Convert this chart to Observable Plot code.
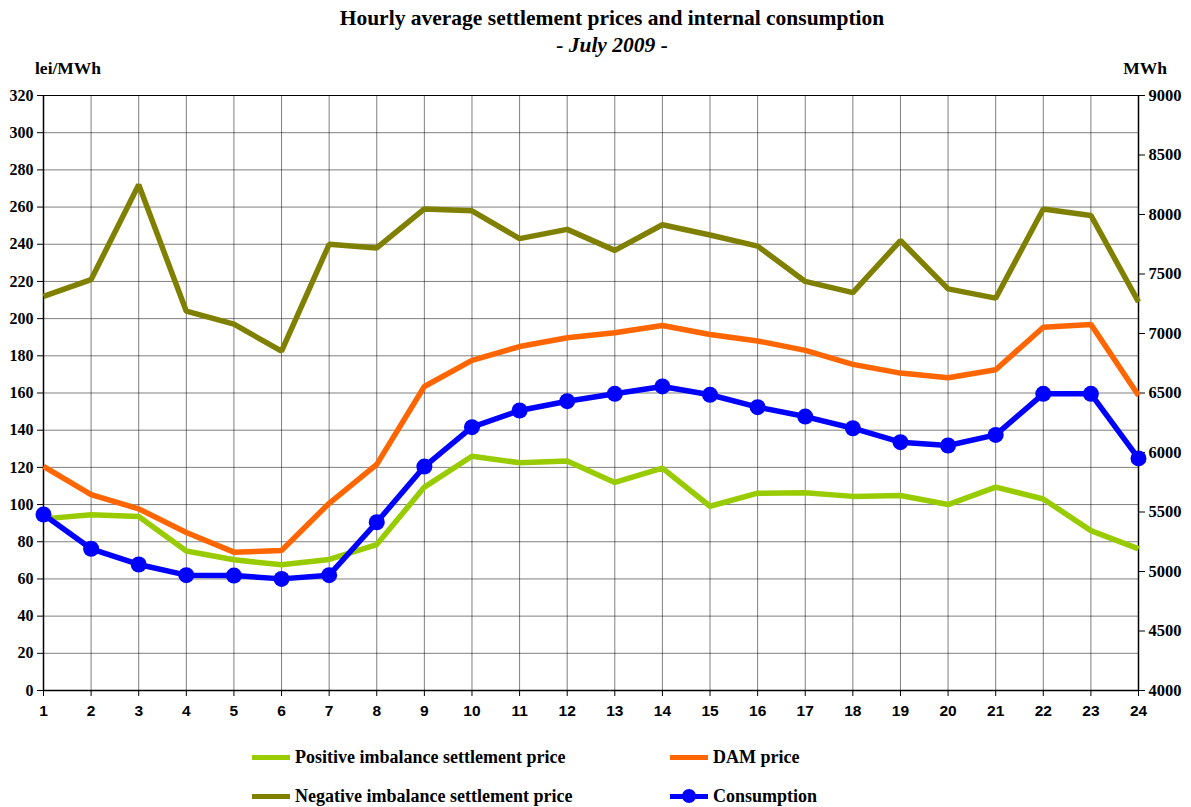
<!DOCTYPE html>
<html>
<head>
<meta charset="utf-8">
<script src="https://cdn.jsdelivr.net/npm/d3@7"></script>
<script src="https://cdn.jsdelivr.net/npm/@observablehq/plot@0.6"></script>
<style>
  html, body { margin: 0; padding: 0; background: #fff; }
  #wrap { position: relative; width: 1191px; height: 807px; font-family: "Liberation Serif", "Times New Roman", serif; font-weight: bold; color: #000; }
  #wrap svg { position: absolute; left: 0; top: 0; }
  .abs { position: absolute; white-space: nowrap; }
  #title { left: 0; width: 1224px; top: 5px; text-align: center; font-size: 21.5px; line-height: 26px; }
  #subtitle { left: 0; width: 1224px; top: 32px; text-align: center; font-size: 21.5px; line-height: 26px; font-style: italic; }
  #lunit { left: 35px; top: 57px; font-size: 17.5px; line-height: 22px; }
  #runit { right: 24px; top: 57px; font-size: 17.5px; line-height: 22px; }
  .leg { position: absolute; font-size: 18px; line-height: 22px; }
  .sw { position: absolute; height: 5px; width: 38px; }
</style>
</head>
<body>
<div id="wrap">
  <div id="chart"></div>
  <div id="title" class="abs">Hourly average settlement prices and internal consumption</div>
  <div id="subtitle" class="abs">- July 2009 -</div>
  <div id="lunit" class="abs">lei/MWh</div>
  <div id="runit" class="abs">MWh</div>
  <div id="legend"></div>
</div>
<script>
const hours = [1,2,3,4,5,6,7,8,9,10,11,12,13,14,15,16,17,18,19,20,21,22,23,24];
const positivePrice = [92.3,94.5,93.6,75,70.3,67.6,70.5,78.5,109.4,126,122.5,123.4,111.9,119.6,99.1,106.1,106.3,104.4,104.9,100,109.4,103,86,76.2];
const negativePrice = [212,221,272,204,197,182.5,240,238,259,258,243,248,236.7,250.5,245,239,220,214,242,216,211,259,255.5,209];
const damPrice = [120.5,105.4,97.7,85,74.4,75.3,100.7,121.6,163.5,177.5,185,189.7,192.4,196.3,191.5,188,182.9,175.4,170.7,168.2,172.5,195.4,196.9,158.7];
const consumption = [5479,5191,5059,4969,4966,4938,4969,5414,5882,6213,6353,6431,6493,6555,6485,6381,6302,6204,6087,6059,6148,6493,6493,5950];
const leftTicks = [0,20,40,60,80,100,120,140,160,180,200,220,240,260,280,300,320];
const rightTicks = [4000,4500,5000,5500,6000,6500,7000,7500,8000,8500,9000];
const seriesNames = ["Positive imbalance settlement price","Negative imbalance settlement price","DAM price","Consumption"];
const seriesColors = ["#99CC00","#808000","#FF6600","#0000FF"];

// secondary axis mapping: 4000..9000 MWh -> 0..320 on the primary scale
const rMin = 4000, rMax = 9000, lMax = 320;
const toLeft = v => (v - rMin) / (rMax - rMin) * lMax;

const rows = [];
hours.forEach((h, i) => {
  rows.push({hour: h, value: positivePrice[i], s: seriesNames[0]});
  rows.push({hour: h, value: negativePrice[i], s: seriesNames[1]});
  rows.push({hour: h, value: damPrice[i], s: seriesNames[2]});
});
const cons = hours.map((h, i) => ({hour: h, value: toLeft(consumption[i]), raw: consumption[i]}));

const font = `"Liberation Serif", "Times New Roman", serif`;
const chart = Plot.plot({
  width: 1191,
  height: 730,
  marginTop: 95,
  marginBottom: 40,
  marginLeft: 43,
  marginRight: 53,
  style: {fontFamily: font, fontSize: "16px", fontWeight: "bold", color: "#000", background: "transparent"},
  x: {type: "linear", domain: [1, 24], label: null},
  y: {domain: [0, 320], label: null},
  color: {domain: seriesNames, range: seriesColors},
  marks: [
    Plot.gridX(hours, {stroke: "#000", strokeOpacity: 0.5, strokeWidth: 1}),
    Plot.gridY(leftTicks, {stroke: "#000", strokeOpacity: 0.5, strokeWidth: 1}),
    Plot.ruleY([320], {stroke: "#000", strokeWidth: 1}),
    Plot.axisY(leftTicks, {anchor: "left", tickSize: 6, tickPadding: 4, label: null, fontSize: 16, fontWeight: "bold"}),
    Plot.axisY(rightTicks.map(toLeft), {anchor: "right", tickSize: 6, tickPadding: 4, label: null, fontSize: 16.5, fontWeight: "bold",
      tickFormat: d => String(Math.round(rMin + d / lMax * (rMax - rMin)))}),
    Plot.axisX(hours, {anchor: "bottom", tickSize: 6, tickPadding: 8, label: null, fontSize: 15.5, fontWeight: "bold", fontFamily: "Liberation Sans, Arial, sans-serif", tickFormat: d => String(d)}),
    Plot.ruleX([1, 24], {stroke: "#000", strokeWidth: 1.5}),
    Plot.ruleY([0], {stroke: "#000", strokeWidth: 1.5}),
    Plot.line(rows, {x: "hour", y: "value", stroke: "s", strokeWidth: 5.5, strokeLinejoin: "miter", strokeLinecap: "butt"}),
    Plot.line(cons, {x: "hour", y: "value", stroke: seriesColors[3], strokeWidth: 5.5, strokeLinejoin: "miter"}),
    Plot.dot(cons, {x: "hour", y: "value", r: 8, fill: seriesColors[3], stroke: "none"})
  ]
});
document.getElementById("chart").appendChild(chart);

// legend
const legend = document.getElementById("legend");
const legPos = [
  {x: 252, y: 757}, {x: 252, y: 796}, {x: 670, y: 757}, {x: 670, y: 796}
];
seriesNames.forEach((name, i) => {
  const p = legPos[i];
  const sw = document.createElement("div");
  sw.className = "sw";
  sw.style.left = p.x + "px";
  sw.style.top = (p.y - 2.5) + "px";
  sw.style.background = seriesColors[i];
  legend.appendChild(sw);
  if (i === 3) {
    const dot = document.createElement("div");
    dot.style.cssText = `position:absolute;left:${p.x + 19 - 7}px;top:${p.y - 7}px;width:14px;height:14px;border-radius:50%;background:${seriesColors[i]}`;
    legend.appendChild(dot);
  }
  const t = document.createElement("div");
  t.className = "leg";
  t.style.left = (p.x + 43) + "px";
  t.style.top = (p.y - 11) + "px";
  t.textContent = name;
  legend.appendChild(t);
});
</script>
</body>
</html>
